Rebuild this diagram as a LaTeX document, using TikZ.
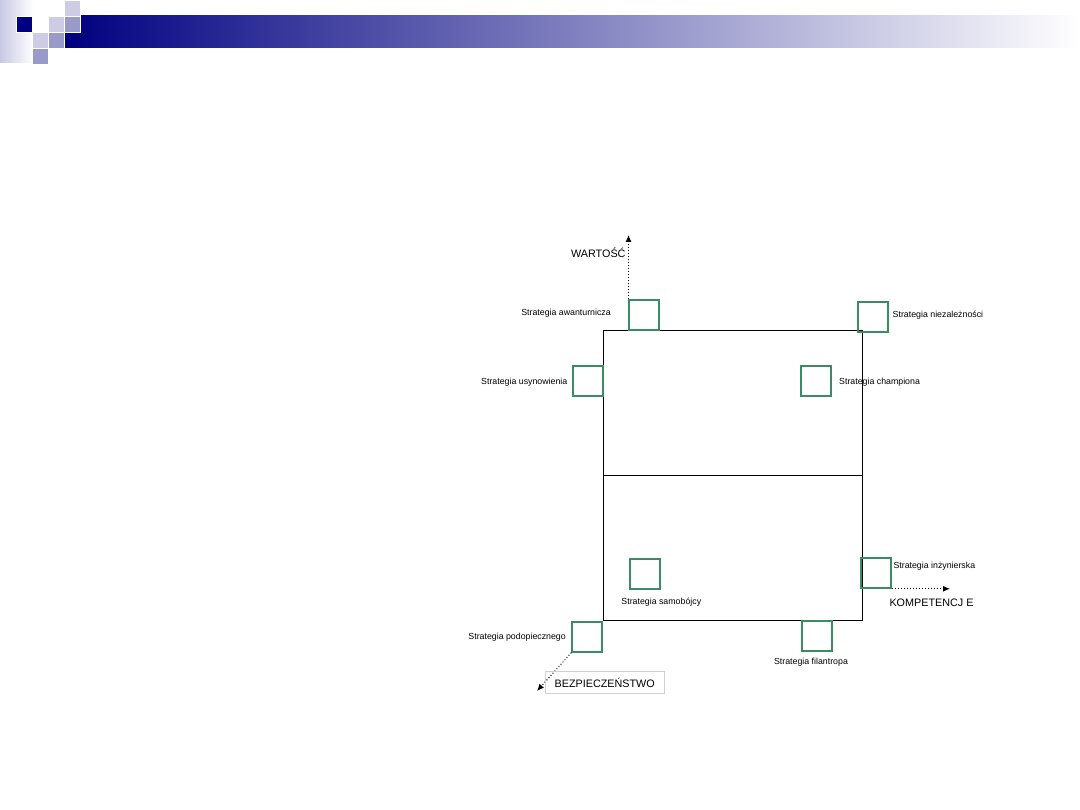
\documentclass[tikz,border=0pt]{standalone}
\usepackage{fontspec}
\setmainfont{Liberation Sans}
\usetikzlibrary{arrows.meta}
\definecolor{navyblue}{RGB}{0,0,128}
\definecolor{bandlight}{RGB}{200,200,228}
\definecolor{sqlight}{RGB}{204,204,230}
\definecolor{sqmedium}{RGB}{153,153,204}
\definecolor{stratgreen}{RGB}{58,140,98}
\newcommand{\drawsquare}[3]{
    \pgfmathsetmacro \sqx {#1*16}
    \pgfmathsetmacro \sqy {#2*16}
    % one small square of the header
    \filldraw[draw=white,line width=0.6,fill=#3] (\sqx,\sqy) rectangle (\sqx+16,\sqy+16);
}
\tikzset{
    stratbox/.style={draw=stratgreen,line width=2pt,minimum size=30pt,inner sep=0pt},
    stratlabel/.style={inner sep=0pt,font=\fontsize{8.8}{10}\selectfont},
    axislabel/.style={inner sep=0pt,font=\fontsize{10.8}{12}\selectfont},
    axisline/.style={line width=1pt,dash pattern=on 1pt off 2pt,-{Latex[length=7pt,width=6pt]}}
}
\begin{document}
\begin{tikzpicture}[x=1pt,y=-1pt]
    \useasboundingbox (0,0) rectangle (1080,810);

    % header
    \shade[left color=bandlight,right color=white] (0,0) rectangle (33,63);
    \shade[left color=navyblue,right color=white] (64,16) rectangle (1080,48);
    \drawsquare{1}{1}{navyblue}
    \drawsquare{3}{1}{sqlight}
    \drawsquare{4}{1}{sqmedium}
    \drawsquare{4}{0}{sqlight}
    % second row
    \drawsquare{2}{2}{sqlight}
    \drawsquare{3}{2}{sqmedium}
    % third row
    \drawsquare{2}{3}{sqmedium}

    % main rectangle
    \draw[line width=0.9pt] (603,330) rectangle (862,620);
    \draw[line width=0.9pt] (603,475) -- (862,475);

    % strategy boxes
    \node[stratbox] (awan) at (643.5,315.5) {};
    \node[stratbox] (usyn) at (588,381.5) {};
    \node[stratbox] (niez) at (873,317.3) {};
    \node[stratbox] (champ) at (816.3,381.3) {};
    \node[stratbox] (samob) at (645,573.7) {};
    \node[stratbox] (podop) at (587.3,636.7) {};
    \node[stratbox] (inzyn) at (875.7,572.8) {};
    \node[stratbox] (filan) at (817.3,635.8) {};

    \node[stratlabel,anchor=east] (awanlab) at (611,313.5) {Strategia awanturnicza};
    \node[stratlabel,anchor=east] (usynlab) at (567.5,382.2) {Strategia usynowienia};
    \node[stratlabel,anchor=west] (niezlab) at (892.5,315.5) {Strategia niezależności};
    \node[stratlabel,anchor=west] (champlab) at (839,382.2) {Strategia championa};
    \node[stratlabel] (samoblab) at (661.3,602.2) {Strategia samobójcy};
    \node[stratlabel,anchor=east] (podoplab) at (566,637.2) {Strategia podopiecznego};
    \node[stratlabel,anchor=west] (inzynlab) at (893.3,566.5) {Strategia inżynierska};
    \node[stratlabel] (filanlab) at (811,662.2) {Strategia filantropa};

    % axes
    \coordinate (warttip) at (629.3,235);
    \coordinate (komptip) at (950,590);
    \coordinate (bezptip) at (537,691);
    \draw[axisline] (awan.north west) ++(1,0) coordinate (wartstart) -- (wartstart |- warttip);
    \draw[axisline] (inzyn.south east) -- (inzyn.south east -| komptip);
    \draw[axisline] (podop.south west) -- (bezptip);

    \node[axislabel,anchor=east] (wartlab) at (625.7,252.3) {WARTOŚĆ};
    \node[axislabel,anchor=west] (komplab) at (889.3,602.3) {KOMPETENCJ E};
    \node[axislabel,draw=black!18,line width=0.8pt,minimum width=119pt,minimum height=22pt] (bezplab) at (604.7,682.5) {BEZPIECZEŃSTWO};

\end{tikzpicture}
\end{document}
